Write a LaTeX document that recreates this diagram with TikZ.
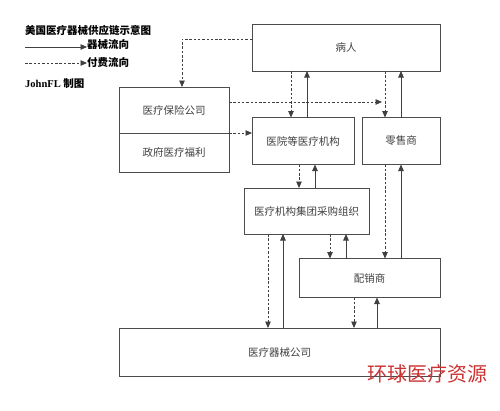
\documentclass[tikz,border=0pt]{standalone}
\usepackage{fontspec}
\setmainfont{Liberation Serif}
\newfontfamily\cjk{Noto Sans CJK SC}
\usepackage{tikz}
\usetikzlibrary{arrows.meta,positioning}

\begin{document}
\begin{tikzpicture}[
    x=1pt, y=-1pt,
    box/.style={rectangle, draw=black!70, line width=0.9pt, inner sep=0pt, outer sep=0pt, align=center, font=\cjk\fontsize{10.5}{12}\selectfont, text=black!75},
    legend/.style={anchor=west, inner sep=0pt, font=\cjk\bfseries\fontsize{10.5}{12}\selectfont},
    goods/.style={-{Triangle[length=6.5pt,width=5.5pt]}, line width=0.9pt, draw=black!75},
    pay/.style={-{Triangle[length=6.5pt,width=5.5pt]}, line width=0.9pt, draw=black!75, dash pattern=on 2.5pt off 1.8pt},
]
    \useasboundingbox (0,0) rectangle (500,410);

    % Legend
    \node[legend] (title) at (25,30) {美国医疗器械供应链示意图};
    \coordinate (goodsStart) at (25,47);
    \node[legend] (goodsText) at (87,44) {器械流向};
    \coordinate (payStart) at (25,63);
    \node[legend] (payText) at (87,63) {付费流向};
    \node[legend, font=\bfseries\fontsize{10.5}{12}\selectfont] (author) at (25,84) {JohnFL \cjk 制图};
    \draw[goods] (goodsStart) -- (goodsStart -| goodsText.west);
    \draw[pay] (payStart) -- (payText.west);

    % Boxes
    \node[box, minimum width=188pt, minimum height=47pt] (patient) at (346,47.5) {病人};
    \node[box, minimum width=110pt, minimum height=46pt] (insurer) at (174,110) {医疗保险公司};
    \node[box, minimum width=110pt, minimum height=39pt] (welfare) at (174,152.5) {政府医疗福利};
    \node[box, minimum width=102pt, minimum height=47pt] (hospital) at (303,141) {医院等医疗机构};
    \node[box, minimum width=78pt, minimum height=47pt] (retailer) at (401,141) {零售商};
    \node[box, minimum width=125pt, minimum height=46pt] (gpo) at (306.5,211) {医疗机构集团采购组织};
    \node[box, minimum width=141pt, minimum height=39pt] (distributor) at (369.5,278) {配销商};
    \node[box, minimum width=321pt, minimum height=48pt] (maker) at (279.5,352) {医疗器械公司};

    % Watermark
    \node[inner sep=0pt, text={rgb,255:red,205;green,50;blue,50}, font=\cjk\fontsize{20}{23}\selectfont] (mark) at (427.5,374) {环球医疗资源};

    % Payment flows
    \coordinate (payRetail) at (382,102);
    \draw[pay] (patient.west |- 0,39) -| (insurer.north -| 182,0);
    \draw[pay] (insurer.east |- 0,102) -- (payRetail);
    \draw[pay] (welfare.north east) -- (hospital.west |- welfare.north east);
    \draw[pay] (patient.south -| 291,0) -- (hospital.north -| 291,0);
    \draw[pay] (patient.south -| 385,0) -- (retailer.north -| 385,0);
    \draw[pay] (hospital.south -| 299,0) -- (gpo.north -| 299,0);
    \draw[pay] (gpo.south -| 268,0) -- (maker.north -| 268,0);
    \draw[pay] (gpo.south -| 330,0) -- (distributor.north -| 330,0);
    \draw[pay] (retailer.south -| 385,0) -- (distributor.north -| 385,0);
    \draw[pay] (distributor.south -| 354,0) -- (maker.north -| 354,0);

    % Device flows
    \draw[goods] (hospital.north -| 307,0) -- (patient.south -| 307,0);
    \draw[goods] (retailer.north -| 401,0) -- (patient.south -| 401,0);
    \draw[goods] (gpo.north -| 315,0) -- (hospital.south -| 315,0);
    \draw[goods] (maker.north -| 283,0) -- (gpo.south -| 283,0);
    \draw[goods] (distributor.north -| 346,0) -- (gpo.south -| 346,0);
    \draw[goods] (distributor.north -| 401,0) -- (retailer.south -| 401,0);
    \draw[goods] (maker.north -| 377,0) -- (distributor.south -| 377,0);
\end{tikzpicture}
\end{document}
